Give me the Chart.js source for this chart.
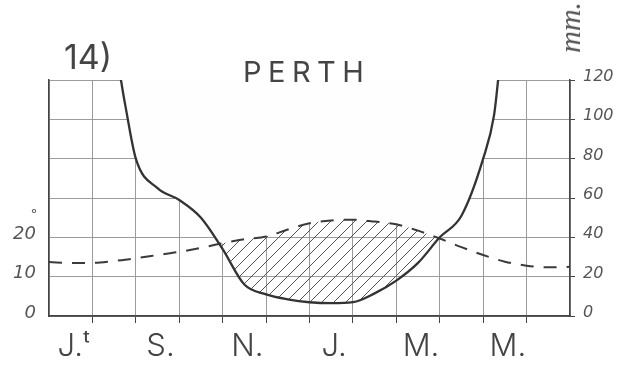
<!DOCTYPE html>
<html>
<head>
<meta charset="utf-8">
<title>Perth climate diagram</title>
<script src="https://cdn.jsdelivr.net/npm/chart.js@4.4.1/dist/chart.umd.min.js"></script>
<style>
  html, body { margin: 0; padding: 0; background: #fff; }
  #wrap { position: relative; width: 627px; height: 365px; }
  #wrap canvas { position: absolute; left: 0; top: 0; }
  .txt { position: absolute; color: #444; font-family: Inter, "DejaVu Sans", sans-serif; white-space: nowrap; line-height: 1; }
  #num   { left: 64px; top: 40px; font-size: 34px; font-weight: 400; }
  #name  { left: 243px; top: 57px; font-size: 29px; font-weight: 400; letter-spacing: 6.5px; }
  #unit  { left: 555px; top: 2px; font-family: "Liberation Serif", serif; font-style: italic; font-size: 30px;
           writing-mode: vertical-rl; transform: rotate(180deg); color: #555; }
  #deg   { left: 31px; top: 208px; font-size: 13px; color: #555; }
</style>
</head>
<body>
<div id="wrap">
  <canvas id="c" width="627" height="365"></canvas>
  <div class="txt" id="num">14)</div>
  <div class="txt" id="name">PERTH</div>
  <div class="txt" id="unit">mm.</div>
  <div class="txt" id="deg">°</div>
</div>
<script>
// ----- data (x = months since start of July, 0..12) -----
const MONTH_X   = [0, 0.5, 1, 1.5, 1.75, 2, 2.5, 3, 3.5, 4, 4.5, 5, 5.5, 6, 6.5, 7, 7.5, 8, 8.5, 9, 9.5, 10, 10.25, 10.5, 11, 11.5, 12];
const PRECIP_MM = [158, 155, 150, 138, 108, 80, 65, 59, 50, 34, 16, 11, 8.5, 7, 6.5, 7, 11.5, 18, 27, 40, 51, 80, 102, 150, 168, 175, 178];
const TEMP_C    = [13.7, 13.5, 13.5, 14, 14.3, 14.7, 15.5, 16.3, 17.3, 18.5, 19.5, 20.2, 22, 23.6, 24.3, 24.5, 24, 23.3, 21.7, 19.7, 17.5, 15.5, 14.6, 13.8, 12.8, 12.4, 12.5];

const MONTH_LABELS = ["J.ᵗ", "S.", "N.", "J.", "M.", "M."];
const LABEL_X      = [0.5, 2.5, 4.5, 6.5, 8.5, 10.5];
const GRID_X       = [0, 1, 2, 3, 4, 5, 6, 7, 8, 9, 10, 11, 12];
const MM_TICKS     = [0, 20, 40, 60, 80, 100, 120];
const TEMP_TICKS   = [0, 10, 20];

// ----- styles -----
const INK = "#333";
const BORDER = "#444";
const GRID = "#9c9c9c";
const LABEL = "#555";
const PAPER = "#fefefe";
const NUM_FONT = { family: "'DejaVu Sans', sans-serif", style: "italic", size: 16 };

// diagonal hatch for the dry season
function makeHatch(ctx) {
  const s = 12;
  const c = document.createElement("canvas");
  c.width = s; c.height = s;
  const g = c.getContext("2d");
  g.strokeStyle = "#555";
  g.lineWidth = 1;
  g.beginPath();
  g.moveTo(0, s); g.lineTo(s, 0);
  g.moveTo(-s / 2, s / 2); g.lineTo(s / 2, -s / 2);
  g.moveTo(s / 2, s * 1.5); g.lineTo(s * 1.5, s / 2);
  g.stroke();
  return ctx.createPattern(c, "repeat");
}

const canvas = document.getElementById("c");
const hatch = makeHatch(canvas.getContext("2d"));

const pts = (ys) => MONTH_X.map((x, i) => ({ x, y: ys[i] }));
// upper edge of the drawing: the grid is only shown below it
const envelope = MONTH_X.map((x, i) => ({ x, y: Math.max(PRECIP_MM[i], TEMP_C[i] * 2) }));

new Chart(canvas, {
  type: "line",
  data: {
    datasets: [
      {
        label: "precipitation",
        data: pts(PRECIP_MM),
        yAxisID: "y",
        borderColor: INK,
        borderWidth: 2.3,
        pointRadius: 0,
        cubicInterpolationMode: "monotone",
        fill: false,
        order: 0,
      },
      {
        label: "temperature",
        data: pts(TEMP_C),
        yAxisID: "yT",
        borderColor: "#3a3a3a",
        borderWidth: 2,
        borderDash: [13, 10],
        pointRadius: 0,
        cubicInterpolationMode: "monotone",
        fill: { target: 0, above: hatch, below: "rgba(0,0,0,0)" },
        order: 1,
      },
      {
        label: "mask",
        data: envelope,
        yAxisID: "y",
        borderColor: PAPER,
        borderWidth: 1,
        pointRadius: 0,
        cubicInterpolationMode: "monotone",
        backgroundColor: PAPER,
        fill: "end",
        order: 2,
      },
    ],
  },
  options: {
    responsive: false,
    animation: false,
    devicePixelRatio: 1,
    layout: { padding: { top: 80, left: 0, right: 0, bottom: 0 } },
    plugins: { legend: { display: false }, tooltip: { enabled: false } },
    scales: {
      x: {
        type: "linear", min: 0, max: 12, offset: false,
        afterBuildTicks: (s) => {
          s.ticks = GRID_X.concat(LABEL_X).sort((a, b) => a - b).map(v => ({ value: v }));
        },
        afterFit: (s) => { s.height = 49; },
        grid: {
          color: (c) => Number.isInteger(c.tick?.value) ? GRID : "rgba(0,0,0,0)",
          tickColor: (c) => {
            const v = c.tick?.value;
            return Number.isInteger(v) && v > 0 && v < 12 ? BORDER : "rgba(0,0,0,0)";
          },
          tickLength: 7,
          lineWidth: 1,
        },
        border: { color: BORDER, width: 1.8 },
        ticks: {
          autoSkip: false, maxRotation: 0, minRotation: 0,
          padding: 5, labelOffset: 3,
          color: "#444",
          font: { family: "Inter, 'DejaVu Sans', sans-serif", size: 31, weight: 300 },
          callback: (v) => {
            const i = LABEL_X.indexOf(v);
            return i >= 0 ? MONTH_LABELS[i] : "";
          },
        },
      },
      y: {
        position: "right", min: 0, max: 120,
        afterBuildTicks: (s) => { s.ticks = MM_TICKS.map(v => ({ value: v })); },
        afterFit: (s) => { s.width = 57; },
        grid: { color: GRID, lineWidth: 1, tickLength: 5, tickColor: BORDER },
        border: { color: BORDER, width: 1.5 },
        ticks: { padding: 8, labelOffset: -3, color: LABEL, font: NUM_FONT },
      },
      yT: {
        position: "left", min: 0, max: 60,
        afterBuildTicks: (s) => { s.ticks = TEMP_TICKS.map(v => ({ value: v })); },
        afterFit: (s) => { s.width = 49; },
        grid: { display: false, drawTicks: false },
        border: { display: true, color: BORDER, width: 1.5 },
        ticks: { padding: 13, labelOffset: -3, color: LABEL, font: { ...NUM_FONT, size: 18 } },
      },
    },
  },
});
</script>
</body>
</html>
